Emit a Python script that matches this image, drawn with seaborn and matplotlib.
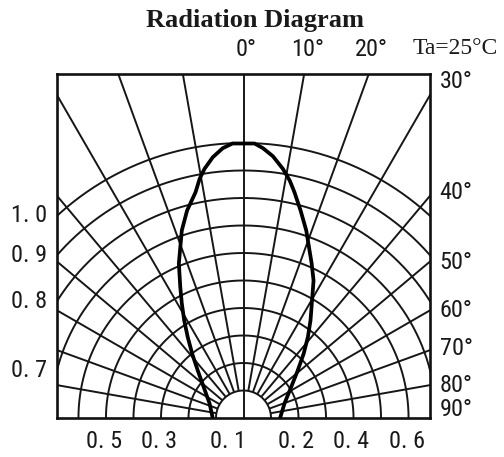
import numpy as np
import pandas as pd
import matplotlib
matplotlib.use("Agg")
import matplotlib.pyplot as plt
from matplotlib import font_manager
import seaborn as sns

# ---------------- data ----------------
ring_levels = [0.1, 0.2, 0.3, 0.4, 0.5, 0.6, 0.7, 0.8, 0.9, 1.0]
spoke_angles = [-80, -70, -60, -50, -40, -30, -20, -10, 0, 10, 20, 30, 40, 50, 60, 70, 80]

left_values = [1.0, 0.9, 0.8, 0.7]
left_labels = ["1. 0", "0. 9", "0. 8", "0. 7"]

bottom_values = [-0.5, -0.3, -0.1, 0.2, 0.4, 0.6]
bottom_labels = ["0. 5", "0. 3", "0. 1", "0. 2", "0. 4", "0. 6"]

top_angles = [0, 10, 20]
top_labels = ["0°", "10°", "20°"]

right_angles = [30, 40, 50, 60, 70, 80, 90]
right_labels = ["30°", "40°", "50°", "60°", "70°", "80°", "90°"]

curve_angle = [-90, -66.9, -52.2, -43.9, -38.6, -34.6, -31.3, -28.3, -25.8, -22.7,
               -18.2, -15.2, -12.0, -10.4, -8.9, -6.7, -4.4, -2.3,
               2.3, 4.1, 6.4, 9.0, 11.0, 12.7, 15.4, 18.5, 23.8, 27.0,
               30.8, 34.5, 38.5, 43.1, 48.8, 57.1, 70.5, 90]
curve_intensity = [0.112, 0.134, 0.183, 0.240, 0.299, 0.357, 0.415, 0.473, 0.528, 0.609,
                   0.718, 0.782, 0.839, 0.884, 0.917, 0.955, 0.984, 0.999,
                   0.999, 0.984, 0.958, 0.917, 0.880, 0.842, 0.782, 0.719, 0.614, 0.561,
                   0.485, 0.430, 0.376, 0.320, 0.262, 0.206, 0.158, 0.133]

title_text = "Radiation Diagram"
temp_text = "Ta=25°C"

# ---------------- style ----------------
sns.set_style("white")
names = {f.name for f in font_manager.fontManager.ttflist}
narrow = None
for cand in ["Liberation Sans Narrow", "Roboto Condensed", "Open Sans Condensed",
             "DejaVu Sans Condensed", "Noto Sans Condensed", "Arial Narrow"]:
    if cand in names:
        narrow = cand
        break
stretch = "normal"
if narrow is None:
    cond = [f for f in font_manager.fontManager.ttflist
            if f.name == "DejaVu Sans" and str(f.stretch) in ("condensed", "semi-condensed", "500", "400") and "Condensed" in f.fname]
    narrow = "DejaVu Sans"
    if cond:
        stretch = "condensed"
label_size = 17.5 if (narrow != "DejaVu Sans" or stretch == "condensed") else 14.5
serif = "Liberation Serif" if "Liberation Serif" in names else "DejaVu Serif"
plt.rcParams["font.family"] = [narrow, "DejaVu Sans"]

W, H = 504, 457
fig = plt.figure(figsize=(W / 100, H / 100), dpi=100)
fig.patch.set_facecolor("white")

# axes box in pixels: left 57, right 430, top 74, bottom 418 ; centre x 244, 275 px per unit
ax = fig.add_axes([57 / W, 1 - 418 / H, 373 / W, 344 / H])
ax.set_facecolor("white")
XL = 0.678
YT = 344 / 275
ax.set_xlim(-XL, XL)
ax.set_ylim(0, YT)
ax.set_xticks([])
ax.set_yticks([])
for s in ax.spines.values():
    s.set_visible(True)
    s.set_color("#111111")
    s.set_linewidth(1.9)

grid_kw = dict(color="#161616", lw=1.4, solid_capstyle="butt", zorder=1)

# concentric arcs
t = np.linspace(-np.pi / 2, np.pi / 2, 721)
for r in ring_levels:
    ax.plot(r * np.sin(t), r * np.cos(t), **grid_kw)

# spokes
for a in spoke_angles:
    ar = np.deg2rad(a)
    r0 = 0.0 if a == 0 else ring_levels[0]
    ax.plot([r0 * np.sin(ar), 3 * np.sin(ar)], [r0 * np.cos(ar), 3 * np.cos(ar)], **grid_kw)

# intensity curve
ang = np.deg2rad(np.array(curve_angle))
rad = np.array(curve_intensity)
df = pd.DataFrame({"x": rad * np.sin(ang), "y": rad * np.cos(ang)})
sns.lineplot(data=df, x="x", y="y", sort=False, estimator=None, color="black",
             lw=2.7, ax=ax, zorder=3)
ax.lines[-1].set_solid_joinstyle("round")
ax.set_xlabel("")
ax.set_ylabel("")

lab_kw = dict(fontsize=label_size, color="#1a1a1a", family=[narrow, "DejaVu Sans"],
              fontstretch=stretch)
PX = 0.72  # points per pixel at 100 dpi

# left labels (where rings meet left edge)
for v, s in zip(left_values, left_labels):
    y = np.sqrt(v ** 2 - XL ** 2)
    ax.annotate(s, xy=(-XL, y), xytext=(-10 * PX, 0), textcoords="offset points",
                ha="right", va="center", annotation_clip=False, **lab_kw)

# bottom labels (where rings meet bottom edge)
for v, s in zip(bottom_values, bottom_labels):
    dx = 12 if abs(v) < 0.15 else -2
    ax.annotate(s, xy=(v, 0), xytext=(dx * PX, -24 * PX), textcoords="offset points",
                ha="center", va="center", annotation_clip=False, **lab_kw)

# top angle labels
for a, s in zip(top_angles, top_labels):
    x = YT * np.tan(np.deg2rad(a))
    ax.annotate(s, xy=(x, YT), xytext=(3 * PX, 25 * PX), textcoords="offset points",
                ha="center", va="center", annotation_clip=False, **lab_kw)

# right angle labels
nudge = {30: 14, 40: 3, 50: -1, 60: 0, 70: 2, 80: 0, 90: 8}
for a, s in zip(right_angles, right_labels):
    y = XL / np.tan(np.deg2rad(a))
    ax.annotate(s, xy=(XL, y), xytext=(26 * PX, nudge[a] * PX), textcoords="offset points",
                ha="center", va="center", annotation_clip=False, **lab_kw)

fig.text(255 / W, 1 - 21 / H, title_text, ha="center", va="center", fontsize=19,
         fontweight="bold", family=[serif, "DejaVu Serif"], color="#1a1a1a")
fig.text(455 / W, 1 - 48 / H, temp_text, ha="center", va="center", fontsize=17,
         family=[serif, "DejaVu Serif"], color="#1a1a1a")

fig.savefig("out.png", dpi=100, facecolor="white")
